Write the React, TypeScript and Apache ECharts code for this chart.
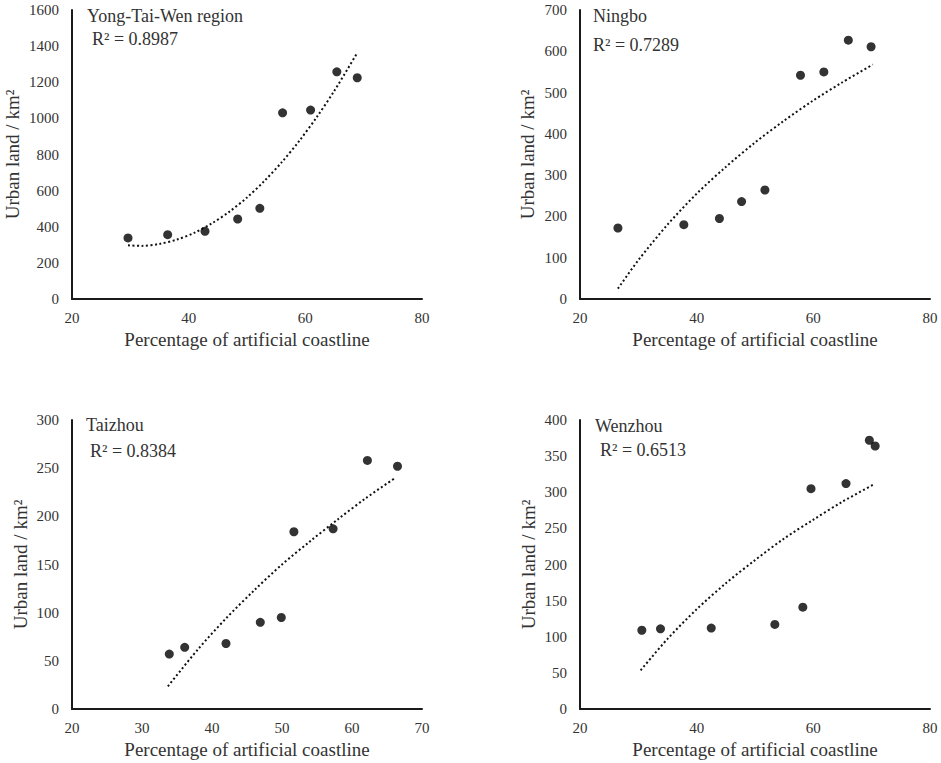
import React, { useEffect, useRef } from "react";
import * as echarts from "echarts";

// ---- data ----
const ytwX = [29.6, 36.4, 42.8, 48.4, 52.2, 56.1, 60.9, 65.4, 68.9];
const ytwY = [338, 356, 375, 443, 502, 1031, 1046, 1258, 1225];
const ytwTrendX = [29.6, 32, 35, 38, 41, 44, 47, 50, 53, 56, 59, 62, 65, 68.9];
const ytwTrendY = [297, 294, 305, 329, 367, 419, 484, 562, 654, 759, 877, 1009, 1154, 1363];

const ningboX = [26.5, 37.8, 43.9, 47.7, 51.7, 57.8, 61.8, 66.0, 69.9];
const ningboY = [172, 180, 195, 236, 264, 542, 550, 627, 611];
const ningboTrendX = [26.5, 30, 35, 40, 45, 50, 55, 60, 65, 70.2];
const ningboTrendY = [25, 94, 180, 255, 320, 379, 432, 481, 525, 568];

const taizhouX = [33.9, 36.1, 42.0, 46.9, 49.9, 51.7, 57.3, 62.2, 66.5];
const taizhouY = [57, 64, 68, 90, 95, 184, 187, 258, 252];
const taizhouTrendX = [33.7, 38, 42, 46, 50, 54, 58, 62, 66.2];
const taizhouTrendY = [23.5, 62, 94, 123, 150, 174, 197, 219, 240];

const wenzhouX = [30.6, 33.8, 42.5, 53.4, 58.2, 59.6, 65.6, 69.6, 70.6];
const wenzhouY = [109, 111, 112, 117, 141, 305, 312, 372, 364];
const wenzhouTrendX = [30.4, 35, 40, 45, 50, 55, 60, 65, 70.4];
const wenzhouTrendY = [53.5, 97, 138, 174, 206, 236, 262, 287, 311];

const regionNames = ["Yong-Tai-Wen region", "Ningbo", "Taizhou", "Wenzhou"];
const r2Labels = ["R² = 0.8987", "R² = 0.7289", "R² = 0.8384", "R² = 0.6513"];
const xRanges = [
  [20, 80, 20],
  [20, 80, 20],
  [20, 70, 10],
  [20, 80, 20],
];
const yRanges = [
  [0, 1600, 200],
  [0, 700, 100],
  [0, 300, 50],
  [0, 400, 50],
];
const xAxisTitle = "Percentage of artificial coastline";
const yAxisTitle = "Urban land / km²";

const FONT = "Liberation Serif";
const TEXT = "#333333";
const AXIS = "#1a1a1a";

const zip = (a: number[], b: number[]) => a.map((v, i) => [v, b[i]]);

const pointSets = [
  zip(ytwX, ytwY),
  zip(ningboX, ningboY),
  zip(taizhouX, taizhouY),
  zip(wenzhouX, wenzhouY),
];
const trendSets = [
  zip(ytwTrendX, ytwTrendY),
  zip(ningboTrendX, ningboTrendY),
  zip(taizhouTrendX, taizhouTrendY),
  zip(wenzhouTrendX, wenzhouTrendY),
];

// layout
const grids = [
  { left: 72, top: 10, width: 350, height: 289 },
  { left: 580, top: 10, width: 350, height: 289 },
  { left: 72, top: 420, width: 350, height: 289 },
  { left: 580, top: 420, width: 350, height: 289 },
];
const yNameGaps = [50, 43, 42, 42];
const titlePos = [
  { x: 87, y: 7, rx: 92, ry: 30 },
  { x: 593, y: 7, rx: 593, ry: 36 },
  { x: 86, y: 416, rx: 90, ry: 442 },
  { x: 595, y: 417, rx: 600, ry: 441 },
];

export default function App() {
  const ref = useRef<HTMLDivElement>(null);
  useEffect(() => {
    if (!ref.current) return;
    const chart = echarts.init(ref.current, undefined, { renderer: "svg" });
    const option: any = {
      animation: false,
      backgroundColor: "#ffffff",
      textStyle: { fontFamily: FONT },
      grid: grids.map((g) => ({ ...g, containLabel: false })),
      xAxis: grids.map((_, i) => ({
        type: "value",
        gridIndex: i,
        min: xRanges[i][0],
        max: xRanges[i][1],
        interval: xRanges[i][2],
        name: xAxisTitle,
        nameLocation: "middle",
        nameGap: 31,
        nameTextStyle: { fontFamily: FONT, fontSize: 19, color: TEXT },
        axisLine: { show: true, onZero: false, lineStyle: { color: AXIS, width: 2 } },
        axisTick: { show: false },
        splitLine: { show: false },
        axisLabel: {
          fontFamily: FONT,
          fontSize: 15,
          color: TEXT,
          margin: 11,
          formatter: (v: number) => String(v),
        },
      })),
      yAxis: grids.map((_, i) => ({
        type: "value",
        gridIndex: i,
        min: yRanges[i][0],
        max: yRanges[i][1],
        interval: yRanges[i][2],
        name: yAxisTitle,
        nameLocation: "middle",
        nameGap: yNameGaps[i],
        nameRotate: 90,
        nameTextStyle: { fontFamily: FONT, fontSize: 19, color: TEXT },
        axisLine: { show: true, onZero: false, lineStyle: { color: AXIS, width: 2 } },
        axisTick: { show: false },
        splitLine: { show: false },
        axisLabel: {
          fontFamily: FONT,
          fontSize: 15,
          color: TEXT,
          margin: 13,
          formatter: (v: number) => String(v),
        },
      })),
      series: [
        ...trendSets.map((d, i) => ({
          type: "line",
          xAxisIndex: i,
          yAxisIndex: i,
          data: d,
          smooth: 0.3,
          showSymbol: false,
          symbol: "none",
          lineStyle: { color: "#111111", width: 2, type: [2, 2.5] },
          z: 2,
        })),
        ...pointSets.map((d, i) => ({
          type: "scatter",
          xAxisIndex: i,
          yAxisIndex: i,
          data: d,
          symbol: "circle",
          symbolSize: 9,
          itemStyle: { color: "#000000" },
          z: 3,
        })),
      ],
      graphic: titlePos.flatMap((p, i) => [
        {
          type: "text",
          left: p.x,
          top: p.y,
          style: { text: regionNames[i], fontFamily: FONT, fontSize: 18, fill: TEXT },
        },
        {
          type: "text",
          left: p.rx,
          top: p.ry,
          style: { text: r2Labels[i], fontFamily: FONT, fontSize: 18, fill: TEXT },
        },
      ]),
    };
    chart.setOption(option);
    return () => chart.dispose();
  }, []);
  return (
    <div
      ref={ref}
      style={{ position: "absolute", left: 0, top: 0, width: 941, height: 763 }}
    />
  );
}
